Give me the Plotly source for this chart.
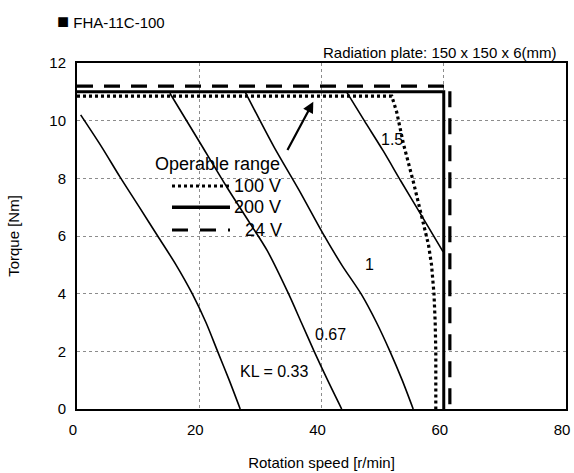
import plotly.graph_objects as go

# ---- data ----
kl033_speed = [0.6, 4.0, 7.0, 10.2, 13.2, 16.2, 18.85, 21.1, 23.0, 24.9, 26.7]
kl033_torque = [10.2, 9.1, 8.06, 7.0, 6.0, 5.0, 4.0, 3.0, 2.0, 1.0, 0.0]

kl067_speed = [15.2, 19.85, 24.5, 28.3, 31.1, 34.6, 36.7, 38.8, 41.0, 43.3]
kl067_torque = [10.95, 9.33, 7.7, 6.44, 5.5, 4.0, 3.0, 2.0, 1.0, 0.0]

kl1_speed = [27.5, 32.2, 36.3, 40.2, 43.3, 46.6, 49.0, 51.2, 53.2, 55.0]
kl1_torque = [11.0, 9.1, 7.6, 6.1, 5.0, 3.95, 3.0, 2.0, 1.0, 0.0]

kl15_speed = [44.1, 47.0, 50.1, 53.0, 56.1, 59.9]
kl15_torque = [11.0, 10.0, 8.95, 7.9, 6.8, 5.45]

v100_speed = [0, 51.5, 52.3, 53.4, 55.0, 56.5, 57.5, 58.0, 58.4, 58.6, 58.7, 58.7]
v100_torque = [10.85, 10.85, 10.3, 9.2, 7.9, 6.6, 5.7, 5.0, 4.0, 3.0, 2.0, 0.0]

v200_speed = [0, 60, 60]
v200_torque = [11.0, 11.0, 0.0]

v24_speed = [0, 61, 61]
v24_torque = [11.2, 11.2, 0.0]

kl_labels = ["KL = 0.33", "0.67", "1", "1.5"]
kl_label_speed = [32.2, 41.5, 47.8, 51.5]
kl_label_torque = [1.3, 2.57, 5.0, 9.33]

x_ticks = [0, 20, 40, 60, 80]
y_ticks = [0, 2, 4, 6, 8, 10, 12]

FONT = "Liberation Sans, Arial, sans-serif"

fig = go.Figure()

for sx, ty in [(kl033_speed, kl033_torque), (kl067_speed, kl067_torque),
               (kl1_speed, kl1_torque), (kl15_speed, kl15_torque)]:
    fig.add_trace(go.Scatter(x=sx, y=ty, mode="lines", showlegend=False,
                             line=dict(color="black", width=1.6, shape="spline", smoothing=0.8),
                             hoverinfo="skip"))

fig.add_trace(go.Scatter(x=v100_speed, y=v100_torque, mode="lines", name="100 V", showlegend=False,
                         line=dict(color="black", width=3.2, dash="3px,3px")))
fig.add_trace(go.Scatter(x=v200_speed, y=v200_torque, mode="lines", name="200 V", showlegend=False,
                         line=dict(color="black", width=3)))
fig.add_trace(go.Scatter(x=v24_speed, y=v24_torque, mode="lines", name="24 V", showlegend=False,
                         line=dict(color="black", width=3.2, dash="16px,11px")))

# KL labels
for t, xs, ys in zip(kl_labels, kl_label_speed, kl_label_torque):
    fig.add_annotation(x=xs, y=ys, text=t, showarrow=False,
                       font=dict(size=16, color="black", family=FONT))

# arrow
fig.add_annotation(x=38.66, y=10.66, ax=34.3, ay=8.93, axref="x", ayref="y",
                   xref="x", yref="y", text="", showarrow=True,
                   arrowhead=2, arrowsize=1, arrowwidth=2.2, arrowcolor="black")

# legend (manual, with long key samples); positions given in screen px
L = 77.0; W = 489.0; B = 409.0; H = 346.0
def px(x):
    return (x - L) / W
def py(y):
    return (B - y) / H

fig.add_annotation(xref="paper", yref="paper", x=px(153), y=py(163.5), text="Operable range",
                   showarrow=False, xanchor="left", yanchor="middle",
                   font=dict(size=18, color="black", family=FONT))
leg = [("100 V", 186, dict(color="black", width=3.2, dash="3px,3px"), 232),
       ("200 V", 207.3, dict(color="black", width=3.5), 232),
       ("24 V", 230, dict(color="black", width=3.2, dash="16px,12px"), 243)]
for name, yy, ln, tx in leg:
    fig.add_shape(type="line", xref="paper", yref="paper", x0=px(172), x1=px(230),
                  y0=py(yy), y1=py(yy), line=ln)
    fig.add_annotation(xref="paper", yref="paper", x=px(tx), y=py(yy), text=name,
                       showarrow=False, xanchor="left", yanchor="middle",
                       font=dict(size=18, color="black", family=FONT))

# title & note
fig.add_annotation(xref="paper", yref="paper", x=px(55), y=py(21),
                   text="<span style='font-size:20px'>■</span> FHA-11C-100",
                   showarrow=False, xanchor="left", yanchor="middle",
                   font=dict(size=15, color="black", family=FONT))
fig.add_annotation(xref="paper", yref="paper", x=px(558), y=py(52),
                   text="Radiation plate: 150 x 150 x 6(mm)",
                   showarrow=False, xanchor="right", yanchor="middle",
                   font=dict(size=15, color="black", family=FONT))

fig.update_layout(
    width=574, height=473,
    margin=dict(l=77, r=8, t=63, b=64),
    paper_bgcolor="white", plot_bgcolor="white",
    font=dict(family=FONT, size=15, color="black"),
    showlegend=False,
)
fig.update_xaxes(range=[0, 80], tickvals=x_ticks, ticktext=[str(v) for v in x_ticks],
                 showgrid=True, gridcolor="#8c8c8c", gridwidth=1, griddash="dot",
                 showline=True, linecolor="black", linewidth=2, mirror=True,
                 ticks="outside", ticklen=6, tickcolor="rgba(0,0,0,0)",
                 ticklabeloverflow="allow", ticklabelshift=-4,
                 zeroline=False, fixedrange=True, automargin=False,
                 title=dict(text="Rotation speed [r/min]", font=dict(size=15), standoff=20))
fig.update_yaxes(range=[0, 12], tickvals=y_ticks, ticktext=[str(v) for v in y_ticks],
                 showgrid=True, gridcolor="#8c8c8c", gridwidth=1, griddash="dot",
                 showline=True, linecolor="black", linewidth=2, mirror=True,
                 ticks="outside", ticklen=6, tickcolor="rgba(0,0,0,0)",
                 ticklabeloverflow="allow",
                 zeroline=False, fixedrange=True, automargin=False,
                 title=dict(text="Torque [Nm]", font=dict(size=15), standoff=26))

fig.write_html("out.html", config={"displayModeBar": False},
               post_script="document.body.style.margin='0px';document.body.style.overflow='hidden';")
